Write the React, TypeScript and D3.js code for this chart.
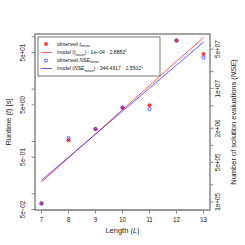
import React from "react";
import * as d3 from "d3";

const lengths = [7, 8, 9, 10, 11, 12, 13];
const tMean = [0.0652, 1.05, 1.73, 4.43, 4.93, 85, 47.2];
const nseMean = [9.4e4, 1.34e6, 1.94e6, 4.64e6, 4.34e6, 7.1e7, 3.54e7];
const tModelA = 1e-4;
const tModelB = 2.8882;
const nseModelA = 344.4917;
const nseModelB = 2.5502;
const leftTicks = [0.05, 0.1, 0.5, 1, 5, 10, 50, 100];
const leftLabels = ["5e\u221202", "", "5e\u221201", "", "5e+00", "", "5e+01", ""];
const rightTicks = [1e5, 2e5, 5e5, 1e6, 2e6, 5e6, 1e7, 2e7, 5e7];
const rightLabels = ["1e+05", "", "5e+05", "", "2e+06", "", "1e+07", "", "5e+07"];

const W = 245, H = 245;
const X0 = 35, X1 = 210, Y0 = 34, Y1 = 210;
const FONT = "'Liberation Sans', Arial, Helvetica, sans-serif";

function padLog(vals: number[]) {
  const lo = Math.log10(d3.min(vals)!);
  const hi = Math.log10(d3.max(vals)!);
  const p = (hi - lo) * 0.04;
  return [Math.pow(10, lo - p), Math.pow(10, hi + p)];
}

export default function App() {
  const x = d3.scaleLinear().domain([7 - 0.24, 13 + 0.24]).range([X0, X1]);
  const yL = d3.scaleLog().domain(padLog(tMean)).range([Y1, Y0]);
  const yR = d3.scaleLog().domain(padLog(nseMean)).range([Y1, Y0]);

  const tLine = d3.line<number>().x((l) => x(l)).y((l) => yL(tModelA * Math.pow(tModelB, l)));
  const nLine = d3.line<number>().x((l) => x(l)).y((l) => yR(nseModelA * Math.pow(nseModelB, l)));

  const axisCol = "#888";
  const txtCol = "#222";
  const red = "rgba(255,30,30,0.85)";
  const blue = "rgba(40,40,255,0.85)";

  const lx = 38, ly = 37, lw = 122, lh = 39;
  const fs = 5.1;
  const sub = 3.7;

  return (
    <svg width={W} height={H} style={{ position: "absolute", left: 0, top: 0, background: "#fff" }} fontFamily={FONT}>
      <rect x={0} y={0} width={W} height={H} fill="#fff" />
      {/* model lines */}
      <path d={tLine(lengths)!} fill="none" stroke={red} strokeWidth={0.9} />
      <path d={nLine(lengths)!} fill="none" stroke={blue} strokeWidth={0.9} />
      {/* points */}
      {lengths.map((l, i) => (
        <circle key={"t" + i} cx={x(l)} cy={yL(tMean[i])} r={2} fill={red} />
      ))}
      {lengths.map((l, i) => (
        <circle key={"n" + i} cx={x(l)} cy={yR(nseMean[i])} r={1.6} fill="none" stroke={blue} strokeWidth={0.9} />
      ))}
      {/* box */}
      <rect x={X0} y={Y0} width={X1 - X0} height={Y1 - Y0} fill="none" stroke={axisCol} strokeWidth={1.5} />
      {/* x axis */}
      <line x1={x(7)} x2={x(13)} y1={Y1} y2={Y1} stroke={axisCol} strokeWidth={1} />
      {lengths.map((l) => (
        <g key={"xt" + l}>
          <line x1={x(l)} x2={x(l)} y1={Y1} y2={Y1 + 3.5} stroke={axisCol} strokeWidth={1} />
          <text x={x(l)} y={Y1 + 12} fontSize={6.3} textAnchor="middle" fill={txtCol}>{l}</text>
        </g>
      ))}
      <text x={(X0 + X1) / 2} y={233} fontSize={7.5} textAnchor="middle" fill={txtCol}>
        Length (<tspan fontStyle="italic">L</tspan>)
      </text>
      {/* left axis */}
      {leftTicks.map((v, i) => (
        <g key={"lt" + i}>
          <line x1={X0 - 3.5} x2={X0} y1={yL(v)} y2={yL(v)} stroke={axisCol} strokeWidth={1} />
          {leftLabels[i] && (
            <text transform={`translate(${X0 - 10},${yL(v)}) rotate(-90)`} fontSize={6.3} textAnchor="middle" fill={txtCol}>
              {leftLabels[i]}
            </text>
          )}
        </g>
      ))}
      <text transform={`translate(11,${(Y0 + Y1) / 2}) rotate(-90)`} fontSize={7.5} textAnchor="middle" fill={txtCol}>
        Runtime (<tspan fontStyle="italic">t</tspan>) [s]
      </text>
      {/* right axis */}
      {rightTicks.map((v, i) => (
        <g key={"rt" + i}>
          <line x1={X1} x2={X1 + 3.5} y1={yR(v)} y2={yR(v)} stroke={axisCol} strokeWidth={1} />
          {rightLabels[i] && (
            <text transform={`translate(${X1 + 10},${yR(v)}) rotate(-90)`} fontSize={6.3} textAnchor="middle" fill={txtCol}>
              {rightLabels[i]}
            </text>
          )}
        </g>
      ))}
      <text transform={`translate(236,${(Y0 + Y1) / 2}) rotate(-90)`} fontSize={7.5} textAnchor="middle" fill={txtCol}>
        Number of solution evaluations (<tspan fontStyle="italic">NSE</tspan>)
      </text>
      {/* legend */}
      <rect x={lx} y={ly} width={lw} height={lh} fill="#fff" stroke="#555" strokeWidth={0.8} />
      <circle cx={46} cy={44} r={2} fill={red} />
      <text x={57} y={45.8} fontSize={fs} fill={txtCol}>
        {"observed "}<tspan fontStyle="italic">t</tspan><tspan fontSize={sub} dy={1.2}>mean</tspan>
      </text>
      <line x1={41} x2={52} y1={52.5} y2={52.5} stroke={red} strokeWidth={0.9} />
      <text x={57} y={54.3} fontSize={fs} fill={txtCol}>
        {"model ("}<tspan fontStyle="italic">t</tspan><tspan fontSize={sub} dy={1.2}>mean</tspan>
        <tspan dy={-1.2}>{") : 1e\u221204 \u00b7 2.8882"}</tspan>
        <tspan fontSize={sub} fontStyle="italic" dy={-2.2}>L</tspan>
      </text>
      <circle cx={46} cy={60.5} r={1.6} fill="none" stroke={blue} strokeWidth={0.9} />
      <text x={57} y={61.8} fontSize={fs} fill={txtCol}>
        {"observed "}<tspan fontStyle="italic">NSE</tspan><tspan fontSize={sub} dy={1.2}>mean</tspan>
      </text>
      <line x1={41} x2={52} y1={68.5} y2={68.5} stroke={blue} strokeWidth={0.9} />
      <text x={57} y={70.3} fontSize={fs} fill={txtCol}>
        {"model ("}<tspan fontStyle="italic">NSE</tspan><tspan fontSize={sub} dy={1.2}>mean</tspan>
        <tspan dy={-1.2}>{") : 344.4917 \u00b7 2.5502"}</tspan>
        <tspan fontSize={sub} fontStyle="italic" dy={-2.2}>L</tspan>
      </text>
    </svg>
  );
}
